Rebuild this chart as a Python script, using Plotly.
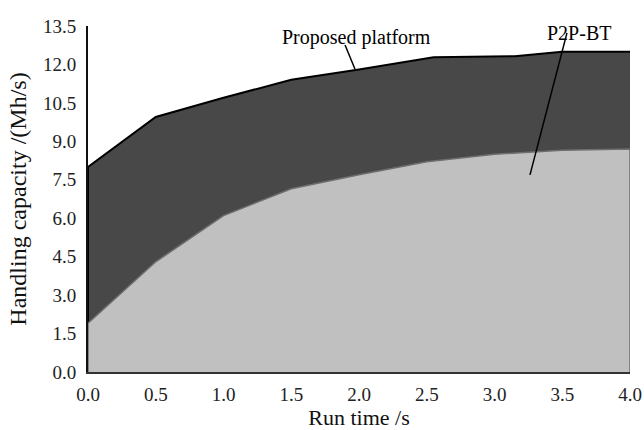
import plotly.graph_objects as go

# Data
prop_x = [0.0, 0.5, 1.0, 1.5, 2.0, 2.55, 3.15, 3.5, 4.0]
prop_y = [8.0, 9.95, 10.7, 11.4, 11.8, 12.28, 12.32, 12.5, 12.5]
p2p_x = [0.0, 0.5, 1.0, 1.5, 2.0, 2.5, 3.0, 3.5, 4.0]
p2p_y = [1.9, 4.3, 6.1, 7.15, 7.7, 8.2, 8.5, 8.65, 8.7]

x_ticks = [0.0, 0.5, 1.0, 1.5, 2.0, 2.5, 3.0, 3.5, 4.0]
y_ticks = [0.0, 1.5, 3.0, 4.5, 6.0, 7.5, 9.0, 10.5, 12.0, 13.5]

FONT = "Liberation Serif, Times New Roman, serif"

fig = go.Figure()

# upper area: left edge down to baseline, filled to zero
fig.add_trace(go.Scatter(x=[prop_x[0]] + prop_x, y=[0] + prop_y, mode="lines",
                         fill="tozeroy", fillcolor="#484848",
                         line=dict(color="#000000", width=2),
                         name="Proposed platform", hoverinfo="skip"))
# lower area: closed polygon down to baseline at both ends
fig.add_trace(go.Scatter(x=[p2p_x[0]] + p2p_x + [p2p_x[-1]], y=[0] + p2p_y + [0],
                         mode="lines", fill="toself", fillcolor="#c0c0c0",
                         line=dict(color="#6e6e6e", width=1.5),
                         name="P2P-BT", hoverinfo="skip"))

# leader lines for labels
fig.add_shape(type="line", x0=1.897, y0=12.76, x1=1.97, y1=11.82,
              line=dict(color="black", width=1.5))
fig.add_shape(type="line", x0=3.535, y0=13.23, x1=3.262, y1=7.69,
              line=dict(color="black", width=1.5))

fig.add_annotation(x=1.985, y=13.07, text="Proposed platform", showarrow=False,
                   font=dict(family=FONT, size=20, color="black"))
fig.add_annotation(x=3.62, xref="x", y=1.017, yref="paper", text="P2P-BT",
                   showarrow=False, font=dict(family=FONT, size=20, color="black"))

fig.update_layout(
    width=644, height=430,
    margin=dict(l=88, r=14, t=26, b=58),
    paper_bgcolor="white", plot_bgcolor="white",
    showlegend=False,
    font=dict(family=FONT, color="#222222"),
    xaxis=dict(range=[0, 4], tickvals=x_ticks, ticktext=[f"{v:.1f}" for v in x_ticks],
               showgrid=False, zeroline=False, showline=True, linecolor="#333333",
               linewidth=2, ticks="", automargin=False, ticklabelstandoff=4,
               tickfont=dict(family=FONT, size=19, color="#222222"),
               title=dict(text="Run time /s", font=dict(family=FONT, size=22, color="#111111"),
                          standoff=6)),
    yaxis=dict(range=[0, 13.5], tickvals=y_ticks, ticktext=[f"{v:.1f}" for v in y_ticks],
               showgrid=False, zeroline=False, showline=True, linecolor="#111111",
               linewidth=2, ticks="", automargin=False, ticklabelstandoff=6,
               tickfont=dict(family=FONT, size=19, color="#222222"),
               title=dict(text="Handling capacity /(Mh/s)",
                          font=dict(family=FONT, size=24, color="#111111"), standoff=10)),
)

fig.write_html("out.html", config={"displayModeBar": False},
               post_script="document.body.style.margin='0';document.body.style.overflow='hidden';")
